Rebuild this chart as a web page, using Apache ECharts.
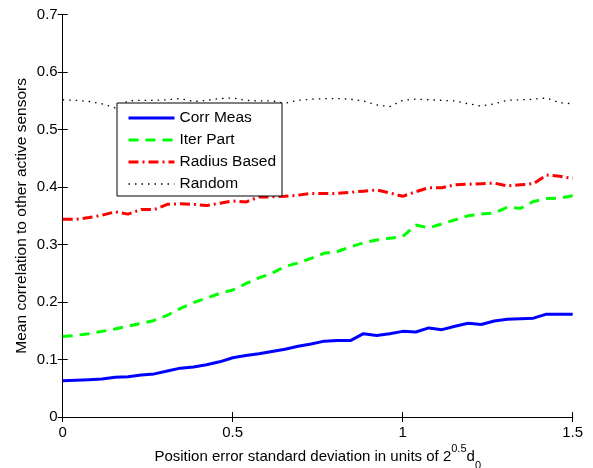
<!DOCTYPE html>
<html>
<head>
<meta charset="utf-8">
<script src="https://cdn.jsdelivr.net/npm/echarts@6/dist/echarts.min.js"></script>
<style>
  html, body { margin: 0; padding: 0; background: #fff; }
  #chart { width: 593px; height: 468px; }
</style>
</head>
<body>
<div id="chart"></div>
<script>
// Sampling grid: position error standard deviation (units of 2^0.5 d0)
const xs = [0, 0.0385, 0.0769, 0.1154, 0.1538, 0.1923, 0.2308, 0.2692, 0.3077, 0.3462,
  0.3846, 0.4231, 0.4615, 0.5, 0.5385, 0.5769, 0.6154, 0.6538, 0.6923, 0.7308,
  0.7692, 0.8077, 0.8462, 0.8846, 0.9231, 0.9615, 1.0, 1.0385, 1.0769, 1.1154,
  1.1538, 1.1923, 1.2308, 1.2692, 1.3077, 1.3462, 1.3846, 1.4231, 1.4615, 1.5];

// Mean correlation to other active sensors, per method
const corrMeas = [0.063, 0.064, 0.065, 0.066, 0.069, 0.070, 0.073, 0.075, 0.080, 0.085,
  0.087, 0.091, 0.096, 0.103, 0.107, 0.110, 0.114, 0.118, 0.123, 0.127,
  0.132, 0.133, 0.133, 0.145, 0.142, 0.145, 0.149, 0.148, 0.155, 0.152,
  0.158, 0.163, 0.161, 0.167, 0.170, 0.171, 0.172, 0.179, 0.179, 0.179];

const iterPart = [0.140, 0.142, 0.145, 0.149, 0.153, 0.158, 0.163, 0.168, 0.177, 0.189,
  0.199, 0.207, 0.215, 0.221, 0.232, 0.242, 0.250, 0.262, 0.268, 0.276,
  0.285, 0.288, 0.296, 0.303, 0.308, 0.311, 0.314, 0.334, 0.329, 0.336,
  0.343, 0.350, 0.353, 0.355, 0.365, 0.363, 0.375, 0.380, 0.381, 0.385];

const radiusBased = [0.344, 0.344, 0.347, 0.351, 0.357, 0.353, 0.361, 0.361, 0.370, 0.371,
  0.370, 0.368, 0.372, 0.376, 0.374, 0.383, 0.383, 0.384, 0.386, 0.389,
  0.389, 0.389, 0.391, 0.393, 0.395, 0.390, 0.384, 0.392, 0.399, 0.399,
  0.404, 0.405, 0.406, 0.407, 0.402, 0.404, 0.406, 0.421, 0.419, 0.415];

const randomSel = [0.552, 0.551, 0.549, 0.545, 0.538, 0.550, 0.551, 0.551, 0.552, 0.554,
  0.549, 0.551, 0.554, 0.555, 0.551, 0.550, 0.550, 0.546, 0.551, 0.553,
  0.554, 0.554, 0.553, 0.550, 0.543, 0.540, 0.551, 0.553, 0.552, 0.551,
  0.550, 0.545, 0.541, 0.545, 0.551, 0.552, 0.553, 0.555, 0.547, 0.545];

const seriesNames = ['Corr Meas', 'Iter Part', 'Radius Based', 'Random'];

const FONT = '"Liberation Sans", Arial, Helvetica, sans-serif';
const pairs = vals => xs.map((x, i) => [x, vals[i]]);

// Line look of each method (shared by the curve and its legend key)
const styles = [
  { color: '#0000ff', width: 3, type: 'solid' },
  { color: '#00ff00', width: 3, type: [10, 7], cap: 'butt' },
  { color: '#ff0000', width: 3, type: [10, 4, 2, 4], cap: 'butt' },
  { color: '#000000', width: 1.3, type: [1.5, 5], cap: 'butt' }
];

const frameAxis = {
  axisLine: { show: true, lineStyle: { color: '#000', width: 1 } },
  axisTick: { show: true, inside: true, length: 5, lineStyle: { color: '#000', width: 1 } },
  splitLine: { show: false },
  minorTick: { show: false }
};

const chart = echarts.init(document.getElementById('chart'), null, { renderer: 'canvas' });

chart.setOption({
  animation: false,
  backgroundColor: '#fff',
  grid: { left: 62.7, right: 20.3, top: 14.7, bottom: 51, containLabel: false, outerBoundsMode: 'none' },
  legend: {
    orient: 'vertical',
    left: 117,
    top: 103,
    data: seriesNames.map((name, i) => ({
      name: name,
      lineStyle: Object.assign({ opacity: 1 }, styles[i])
    })),
    itemWidth: 46,
    itemHeight: 14,
    itemGap: 6,
    padding: [7, 6, 4, 10],
    backgroundColor: '#fff',
    borderColor: '#000',
    borderWidth: 1,
    borderRadius: 0,
    // line-only keys: no marker on the sample line
    itemStyle: { opacity: 0 },
    textStyle: { fontFamily: FONT, fontSize: 15.5, color: '#000', lineHeight: 16 }
  },
  xAxis: [
    Object.assign({
      type: 'value', min: 0, max: 1.5, interval: 0.5, position: 'bottom',
      axisLabel: { color: '#000', fontFamily: FONT, fontSize: 15, margin: 8 },
      name: '{a|Position error standard deviation in units of 2}{sup|0.5}{a|d}{sub|0}',
      nameLocation: 'middle',
      nameGap: 26,
      nameMoveOverlap: false,
      nameTextStyle: {
        fontFamily: FONT, color: '#000',
        rich: {
          a: { fontFamily: FONT, fontSize: 15, color: '#000', lineHeight: 28, verticalAlign: 'middle' },
          sup: { fontFamily: FONT, fontSize: 11, color: '#000', lineHeight: 11, verticalAlign: 'top' },
          sub: { fontFamily: FONT, fontSize: 11, color: '#000', lineHeight: 11, verticalAlign: 'bottom' }
        }
      }
    }, frameAxis),
    Object.assign({
      type: 'value', min: 0, max: 1.5, interval: 0.5, position: 'top',
      axisLabel: { show: false }
    }, frameAxis)
  ],
  yAxis: [
    Object.assign({
      type: 'value', min: 0, max: 0.7, interval: 0.1, position: 'left',
      axisLabel: { color: '#000', fontFamily: FONT, fontSize: 15, margin: 5 },
      name: 'Mean correlation to other active sensors',
      nameLocation: 'middle',
      nameGap: 33,
      nameMoveOverlap: false,
      nameTextStyle: { fontFamily: FONT, fontSize: 15.5, color: '#000' }
    }, frameAxis),
    Object.assign({
      type: 'value', min: 0, max: 0.7, interval: 0.1, position: 'right',
      axisLabel: { show: false }
    }, frameAxis)
  ],
  series: [corrMeas, iterPart, radiusBased, randomSel].map((vals, i) => ({
    name: seriesNames[i],
    type: 'line',
    data: pairs(vals),
    symbol: 'none',
    showSymbol: false,
    lineStyle: styles[i],
    itemStyle: { color: styles[i].color }
  }))
});
</script>
</body>
</html>
